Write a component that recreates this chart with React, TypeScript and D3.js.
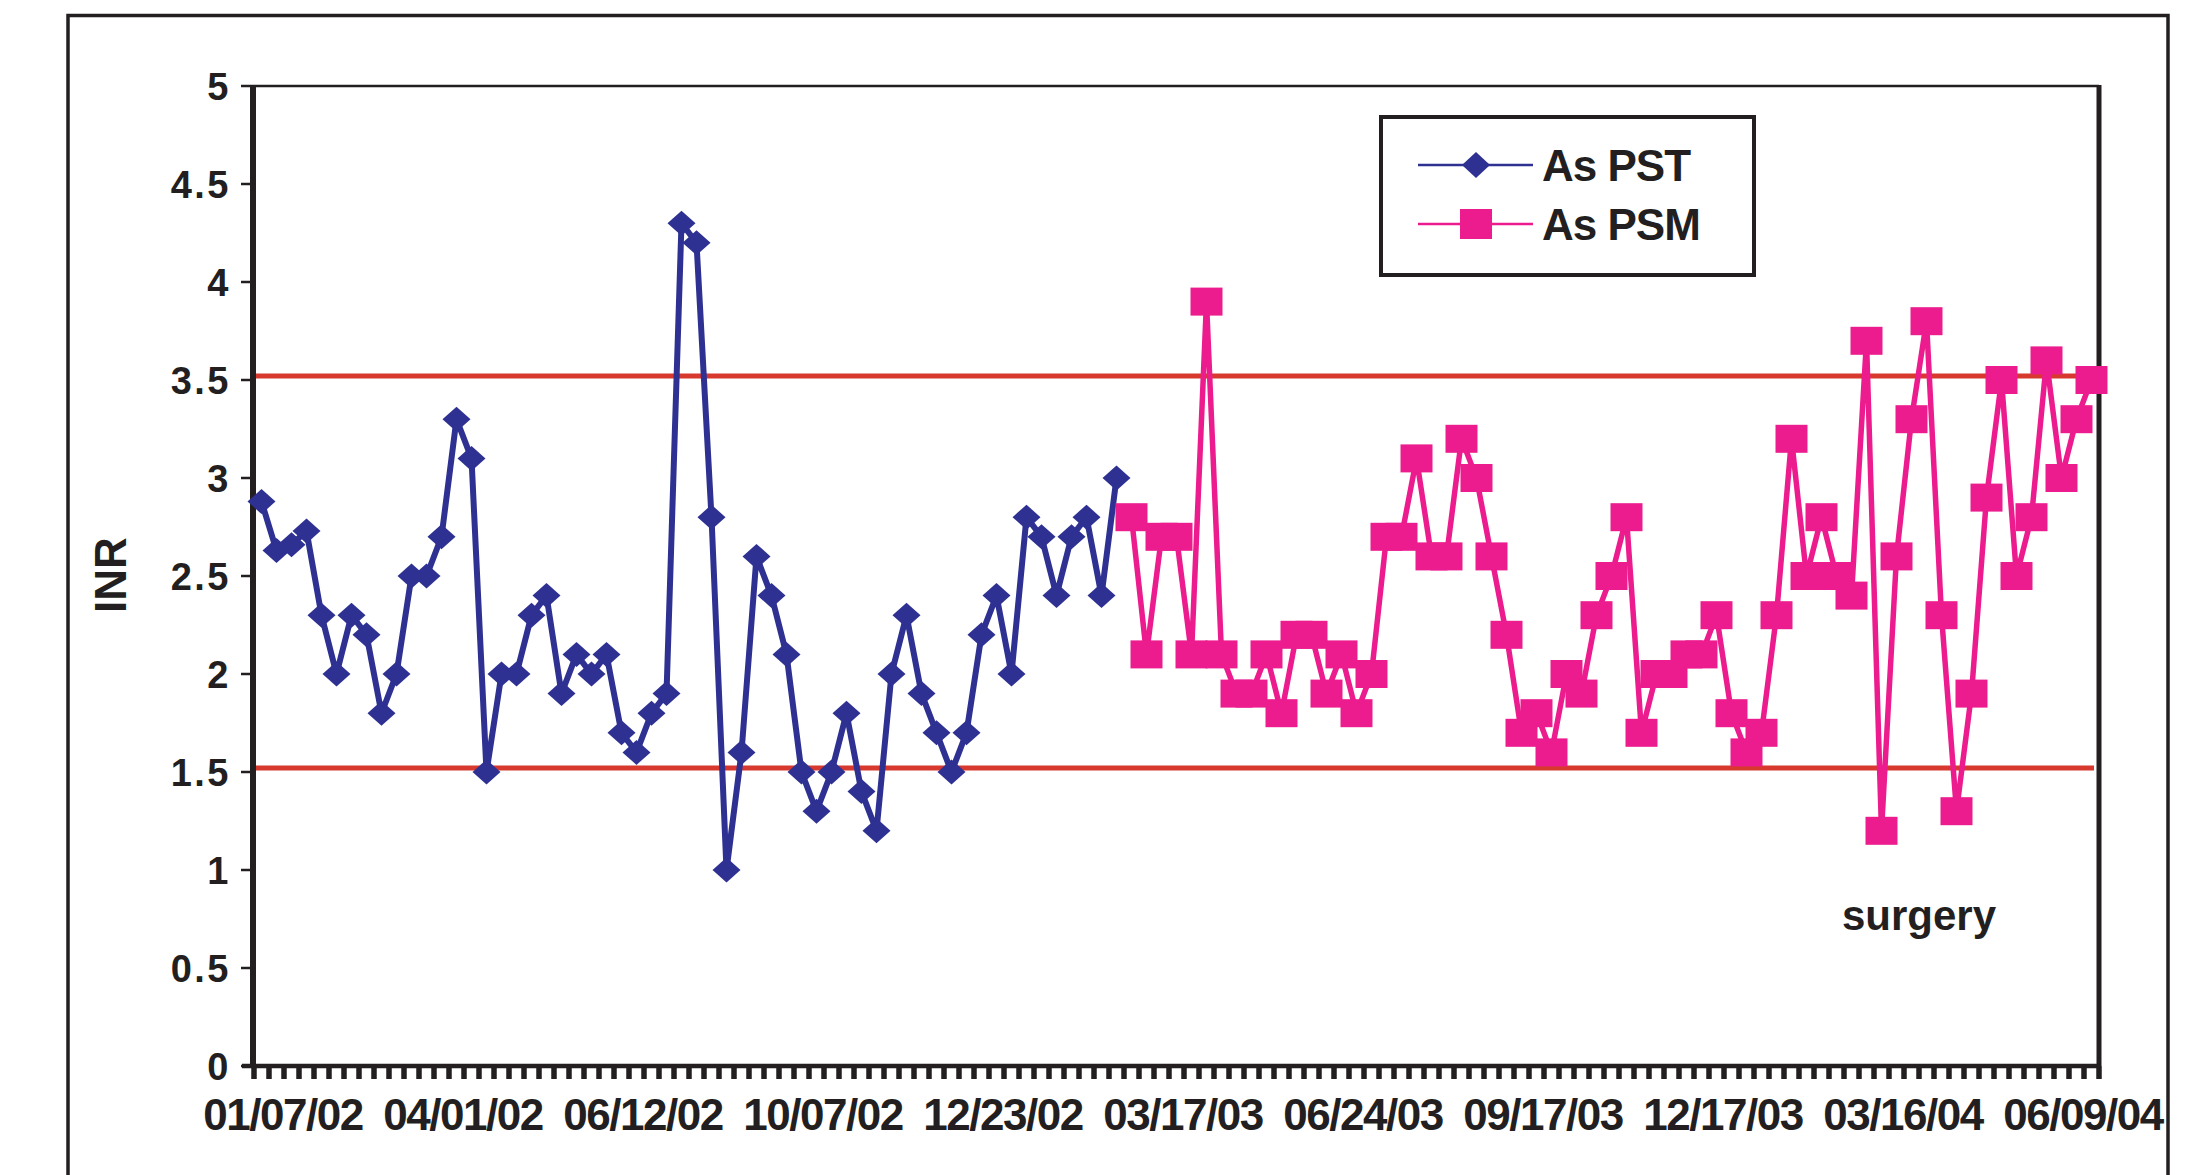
import * as d3 from "d3";
import { useEffect, useRef } from "react";

// INR readings, self testing period (blue diamonds)
const PST = [
  2.88, 2.63, 2.66, 2.73, 2.3, 2.0, 2.3, 2.2, 1.8, 2.0, 2.5, 2.5, 2.7, 3.3, 3.1,
  1.5, 2.0, 2.0, 2.3, 2.4, 1.9, 2.1, 2.0, 2.1, 1.7, 1.6, 1.8, 1.9, 4.3, 4.2, 2.8,
  1.0, 1.6, 2.6, 2.4, 2.1, 1.5, 1.3, 1.5, 1.8, 1.4, 1.2, 2.0, 2.3, 1.9, 1.7, 1.5,
  1.7, 2.2, 2.4, 2.0, 2.8, 2.7, 2.4, 2.7, 2.8, 2.4, 3.0,
];

// INR readings, self management period (pink squares)
const PSM = [
  2.8, 2.1, 2.7, 2.7, 2.1, 3.9, 2.1, 1.9, 1.9, 2.1, 1.8, 2.2, 2.2, 1.9, 2.1, 1.8,
  2.0, 2.7, 2.7, 3.1, 2.6, 2.6, 3.2, 3.0, 2.6, 2.2, 1.7, 1.8, 1.6, 2.0, 1.9, 2.3,
  2.5, 2.8, 1.7, 2.0, 2.0, 2.1, 2.1, 2.3, 1.8, 1.6, 1.7, 2.3, 3.2, 2.5, 2.8, 2.5,
  2.4, 3.7, 1.2, 2.6, 3.3, 3.8, 2.3, 1.3, 1.9, 2.9, 3.5, 2.5, 2.8, 3.6, 3.0, 3.3,
  3.5,
];

// one label every 12 readings
const dateLabels = [
  "01/07/02", "04/01/02", "06/12/02", "10/07/02", "12/23/02", "03/17/03",
  "06/24/03", "09/17/03", "12/17/03", "03/16/04", "06/09/04",
];
const labelEvery = 12;

const yTicks = [0, 0.5, 1, 1.5, 2, 2.5, 3, 3.5, 4, 4.5, 5];
const yTickLabels = ["0", "0.5", "1", "1.5", "2", "2.5", "3", "3.5", "4", "4.5", "5"];

// target range lines
const targetLines = [3.52, 1.52];

const App = () => {
  const ref = useRef<SVGSVGElement>(null);

  useEffect(() => {
    const svg = d3.select(ref.current);
    svg.selectAll("*").remove();

    const width = 2194;
    const height = 1175;
    const left = 254;
    const right = 2099;
    const top = 86;
    const bottom = 1066;
    const ink = "#231f20";
    const blue = "#2e3192";
    const pink = "#ec1c8e";
    const red = "#d8392e";
    const font = "'Liberation Sans', Arial, Helvetica, sans-serif";

    svg.attr("width", width).attr("height", height);

    const n = PST.length + PSM.length;
    const x = d3.scaleBand<number>().domain(d3.range(n)).range([left, right]);
    const bw = x.bandwidth();
    const cx = (i: number) => (x(i) as number) + bw / 2;
    const y = d3.scaleLinear().domain([0, 5]).range([bottom, top]);

    // outer frame
    svg
      .append("rect")
      .attr("x", 68)
      .attr("y", 15.5)
      .attr("width", 2100)
      .attr("height", 1300)
      .attr("fill", "none")
      .attr("stroke", ink)
      .attr("stroke-width", 3.5);

    // plot frame: thin top, thick right
    svg
      .append("line")
      .attr("x1", left)
      .attr("x2", right)
      .attr("y1", top)
      .attr("y2", top)
      .attr("stroke", ink)
      .attr("stroke-width", 2.5);
    svg
      .append("line")
      .attr("x1", right)
      .attr("x2", right)
      .attr("y1", top - 1)
      .attr("y2", bottom)
      .attr("stroke", ink)
      .attr("stroke-width", 5);

    // target lines
    svg
      .selectAll(".target")
      .data(targetLines)
      .join("line")
      .attr("x1", left)
      .attr("x2", right - 5)
      .attr("y1", (d) => y(d))
      .attr("y2", (d) => y(d))
      .attr("stroke", red)
      .attr("stroke-width", 5);

    // y axis
    svg
      .selectAll(".ytick")
      .data(yTicks)
      .join("line")
      .attr("x1", 241)
      .attr("x2", left)
      .attr("y1", (d) => y(d))
      .attr("y2", (d) => y(d))
      .attr("stroke", ink)
      .attr("stroke-width", 2.5);
    svg
      .selectAll(".ylabel")
      .data(yTicks)
      .join("text")
      .attr("x", 231)
      .attr("y", (d) => y(d) + 13.5)
      .attr("text-anchor", "end")
      .attr("font-family", font)
      .attr("font-weight", "bold")
      .attr("font-size", 38)
      .attr("letter-spacing", 2.5)
      .attr("fill", ink)
      .text((d, i) => yTickLabels[i]);
    svg
      .append("line")
      .attr("x1", left - 1)
      .attr("x2", left - 1)
      .attr("y1", top)
      .attr("y2", bottom + 2)
      .attr("stroke", ink)
      .attr("stroke-width", 6);

    svg
      .append("text")
      .attr("transform", `translate(${126},${575}) rotate(-90)`)
      .attr("text-anchor", "middle")
      .attr("font-family", font)
      .attr("font-weight", "bold")
      .attr("font-size", 44)
      .attr("fill", ink)
      .text("INR");

    // x axis: a tick at every category boundary
    svg
      .selectAll(".xtick")
      .data(d3.range(n + 1))
      .join("line")
      .attr("x1", (i) => left + i * bw)
      .attr("x2", (i) => left + i * bw)
      .attr("y1", bottom)
      .attr("y2", bottom + 13)
      .attr("stroke", ink)
      .attr("stroke-width", 5.5);
    svg
      .append("line")
      .attr("x1", 242)
      .attr("x2", right + 2)
      .attr("y1", bottom)
      .attr("y2", bottom)
      .attr("stroke", ink)
      .attr("stroke-width", 4.5);
    svg
      .selectAll(".xlabel")
      .data(dateLabels)
      .join("text")
      .attr("x", (d, k) => (x(k * labelEvery) as number) + 2 * bw - 1)
      .attr("y", 1130)
      .attr("text-anchor", "middle")
      .attr("font-family", font)
      .attr("font-weight", "bold")
      .attr("font-size", 44)
      .attr("letter-spacing", -1.5)
      .attr("fill", ink)
      .text((d) => d);

    // series
    const pstPts = PST.map((v, i) => [cx(i), y(v)] as [number, number]);
    const psmPts = PSM.map((v, i) => [cx(i + PST.length), y(v)] as [number, number]);
    const line = d3.line();

    svg
      .append("path")
      .attr("d", line(pstPts))
      .attr("fill", "none")
      .attr("stroke", blue)
      .attr("stroke-width", 6)
      .attr("stroke-linejoin", "miter");
    svg
      .selectAll(".diamond")
      .data(pstPts)
      .join("path")
      .attr("d", (p) => `M${p[0]},${p[1] - 12.5}L${p[0] + 14},${p[1]}L${p[0]},${p[1] + 12.5}L${p[0] - 14},${p[1]}Z`)
      .attr("fill", blue);

    svg
      .append("path")
      .attr("d", line(psmPts))
      .attr("fill", "none")
      .attr("stroke", pink)
      .attr("stroke-width", 5.5)
      .attr("stroke-linejoin", "miter");
    svg
      .selectAll(".square")
      .data(psmPts)
      .join("rect")
      .attr("x", (p) => p[0] - 16)
      .attr("y", (p) => p[1] - 14)
      .attr("width", 32)
      .attr("height", 28)
      .attr("fill", pink);

    // legend
    const lg = svg.append("g");
    lg.append("rect")
      .attr("x", 1381)
      .attr("y", 117)
      .attr("width", 373)
      .attr("height", 158)
      .attr("fill", "white")
      .attr("stroke", ink)
      .attr("stroke-width", 4);
    const rows = [
      { name: "As PST", color: blue, y: 165, marker: "diamond" },
      { name: "As PSM", color: pink, y: 224, marker: "square" },
    ];
    rows.forEach((r) => {
      lg.append("line")
        .attr("x1", 1418)
        .attr("x2", 1533)
        .attr("y1", r.y)
        .attr("y2", r.y)
        .attr("stroke", r.color)
        .attr("stroke-width", 2.5);
      if (r.marker === "diamond") {
        lg.append("path")
          .attr("d", `M1476,${r.y - 13}L1490,${r.y}L1476,${r.y + 13}L1462,${r.y}Z`)
          .attr("fill", r.color);
      } else {
        lg.append("rect")
          .attr("x", 1460)
          .attr("y", r.y - 15)
          .attr("width", 32)
          .attr("height", 30)
          .attr("fill", r.color);
      }
      lg.append("text")
        .attr("x", 1542)
        .attr("y", r.y + 16)
        .attr("font-family", font)
        .attr("font-weight", "bold")
        .attr("font-size", 44)
        .attr("letter-spacing", -1)
        .attr("fill", ink)
        .text(r.name);
    });

    svg
      .append("text")
      .attr("x", 1842)
      .attr("y", 930)
      .attr("font-family", font)
      .attr("font-weight", "bold")
      .attr("font-size", 42)
      .attr("fill", ink)
      .text("surgery");
  }, []);

  return <svg ref={ref} style={{ position: "absolute", left: 0, top: 0 }}></svg>;
};

export default App;
